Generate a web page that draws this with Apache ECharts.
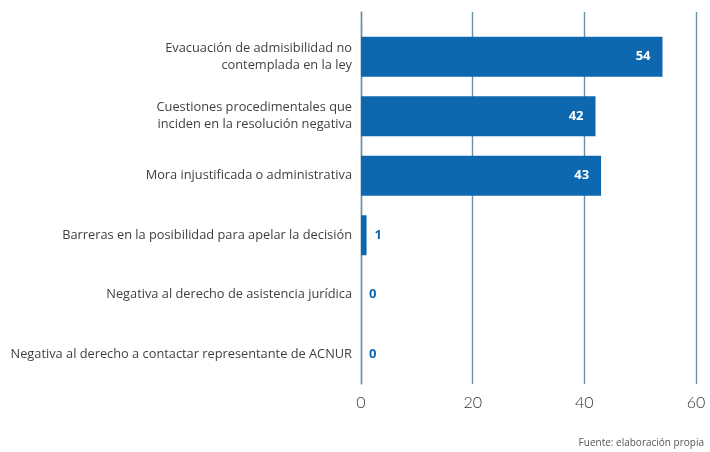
<!DOCTYPE html>
<html>
<head>
<meta charset="utf-8">
<script src="https://cdn.jsdelivr.net/npm/echarts@6/dist/echarts.min.js"></script>
<style>
  html, body { margin: 0; padding: 0; background: #ffffff; }
  #chart { width: 710px; height: 452px; }
</style>
</head>
<body>
<div id="chart"></div>
<script>
// Motivos registrados, de arriba hacia abajo
const categories = [
  'Evacuación de admisibilidad no\ncontemplada en la ley',
  'Cuestiones procedimentales que\ninciden en la resolución negativa',
  'Mora injustificada o administrativa',
  'Barreras en la posibilidad para apelar la decisión',
  'Negativa al derecho de asistencia jurídica',
  'Negativa al derecho a contactar representante de ACNUR'
];
const values = [54, 42, 43, 1, 0, 0];
const xTicks = [0, 20, 40, 60];

const BLUE = '#0e68b0';
const GRID_LINE = '#6b8fa6';
const FONT = '"Open Sans", Lato, sans-serif';

const chart = echarts.init(document.getElementById('chart'), null, { renderer: 'canvas' });

const xCommon = {
  type: 'value',
  min: xTicks[0],
  max: xTicks[xTicks.length - 1],
  interval: xTicks[1] - xTicks[0],
  axisLine: { show: false },
  axisTick: { show: false },
  splitLine: { show: true, lineStyle: { color: GRID_LINE, width: 1.4 } }
};

chart.setOption({
  animation: false,
  grid: [
    { left: 361, right: 14, top: 27, bottom: 68 },
    // thin strip that carries the gridlines up above the first bar
    { left: 361, right: 14, top: 12, height: 15 }
  ],
  xAxis: [
    Object.assign({}, xCommon, {
      gridIndex: 0,
      axisLabel: {
        show: true, margin: 11, color: '#333', fontSize: 16,
        fontFamily: 'Lato, sans-serif', fontWeight: 300
      }
    }),
    Object.assign({}, xCommon, { gridIndex: 1, axisLabel: { show: false } })
  ],
  yAxis: [
    {
      type: 'category',
      gridIndex: 0,
      inverse: true,
      data: categories,
      axisLine: { show: true, lineStyle: { color: GRID_LINE, width: 1.4 } },
      axisTick: { show: false },
      axisLabel: {
        margin: 9, color: '#3f3f3f', fontSize: 12.8, lineHeight: 17,
        fontFamily: FONT, align: 'right'
      }
    },
    {
      type: 'category',
      gridIndex: 1,
      data: [''],
      axisLine: { show: true, lineStyle: { color: GRID_LINE, width: 1.4 } },
      axisTick: { show: false },
      axisLabel: { show: false }
    }
  ],
  series: [{
    type: 'bar',
    xAxisIndex: 0,
    yAxisIndex: 0,
    barWidth: 40,
    data: values.map(v => ({
      value: v,
      label: v > 5
        ? { position: 'insideRight', distance: 12, color: '#ffffff' }
        : { position: 'right', distance: 8, color: BLUE }
    })),
    itemStyle: { color: BLUE },
    label: {
      show: true,
      fontFamily: FONT,
      fontWeight: 'bold',
      fontSize: 13
    }
  }],
  graphic: [{
    type: 'text',
    right: 6,
    bottom: 4,
    style: {
      text: 'Fuente: elaboración propia',
      fill: '#555',
      fontSize: 10,
      fontFamily: FONT
    }
  }]
});
</script>
</body>
</html>
